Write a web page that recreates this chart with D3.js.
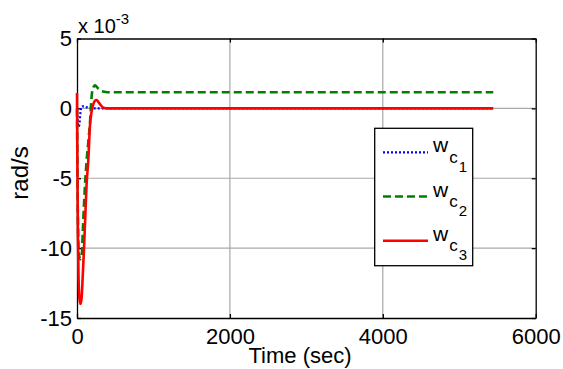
<!DOCTYPE html>
<html><head><meta charset="utf-8">
<script src="https://cdn.jsdelivr.net/npm/d3@7"></script>
<style>
html,body{margin:0;padding:0;background:#fff;}
svg{display:block;font-family:Arial,"Liberation Sans",sans-serif;}
</style></head>
<body><svg id="c" width="563" height="369"></svg>
<script>
// data (values in units of 1e-3 rad/s)
const time   = [0, 5, 12, 20, 30, 45, 60, 75, 92, 110, 125, 148, 170, 192, 213, 235, 257, 280, 300, 345, 400, 500, 5445];
const wc1    = [-0.2, -0.6, -1.1, -1.3, -1.2, -0.3, 0.1, 0.15, 0.15, 0.1, 0.08, 0.05, 0.03, 0.02, 0.01, 0, 0, 0, 0, 0, 0, 0, 0];
const wc2    = [0, -4, -8, -10, -10.6, -10.8, -10.7, -8.9, -6.8, -5, -3.8, -2.4, -1.0, 0.9, 1.5, 1.65, 1.55, 1.4, 1.3, 1.2, 1.15, 1.15, 1.15];
const wc3    = [1.1, -4, -9, -12, -13.5, -14.0, -13.6, -12, -10, -7.5, -5.5, -3.7, -1.2, -0.2, 0.3, 0.55, 0.6, 0.45, 0.3, 0.05, 0, 0, 0];
const xTicks = [0, 2000, 4000, 6000];
const yTicks = [5, 0, -5, -10, -15];
const seriesNames = ["1", "2", "3"];

const svg = d3.select("#c");
const L = 77, R = 535.7, T = 38.5, B = 318;
const x = d3.scaleLinear().domain([0, 6000]).range([L, R]);
const y = d3.scaleLinear().domain([-15, 5]).range([B, T]);

// grid
const g = svg.append("g");
g.selectAll(".gx").data(xTicks.slice(1, -1)).enter().append("line")
  .attr("x1", d => x(d)).attr("x2", d => x(d)).attr("y1", T).attr("y2", B)
  .attr("stroke", "#a8a8a8").attr("stroke-width", 1.2);
g.selectAll(".gy").data(yTicks.slice(1, -1)).enter().append("line")
  .attr("x1", L).attr("x2", R).attr("y1", d => y(d)).attr("y2", d => y(d))
  .attr("stroke", "#a8a8a8").attr("stroke-width", 1.2);

// axes
const fmt = d => String(d);
const ax = (axis, tr) => {
  const a = svg.append("g").attr("transform", tr).call(axis);
  a.select(".domain").attr("stroke", "#000").attr("stroke-width", 1.3);
  a.selectAll(".tick line").attr("stroke", "#000").attr("stroke-width", 1.3);
  a.selectAll("text").attr("font-size", 22).attr("fill", "#000")
    .attr("font-family", "Arial, 'Liberation Sans', sans-serif");
  return a;
};
ax(d3.axisBottom(x).tickValues(xTicks).tickSize(-4).tickPadding(10).tickFormat(fmt).tickSizeOuter(0), `translate(0,${B})`);
ax(d3.axisTop(x).tickValues(xTicks).tickSize(-4).tickFormat("").tickSizeOuter(0), `translate(0,${T})`);
ax(d3.axisLeft(y).tickValues(yTicks).tickSize(-4).tickPadding(5).tickFormat(fmt).tickSizeOuter(0), `translate(${L},0)`);
ax(d3.axisRight(y).tickValues(yTicks).tickSize(-4).tickFormat("").tickSizeOuter(0), `translate(${R},0)`);

// lines
const styles = [
  {data: wc1, color: "#0000ff", dash: "2,2", w: 2.2},
  {data: wc2, color: "#008000", dash: "8,4", w: 2.6},
  {data: wc3, color: "#ff0000", dash: null, w: 2.6}
];
const line = d3.line().x(d => x(d[0])).y(d => y(d[1])).curve(d3.curveMonotoneX);
styles.forEach(s => {
  svg.append("path").datum(time.map((t, i) => [t, s.data[i]]))
    .attr("d", line).attr("fill", "none").attr("stroke", s.color)
    .attr("stroke-width", s.w).attr("stroke-dasharray", s.dash);
});

// exponent label
const ex = svg.append("text").attr("x", 78).attr("y", 33).attr("font-size", 20).attr("fill", "#000");
ex.append("tspan").text("x 10");
ex.append("tspan").attr("font-size", 15).attr("dy", -9).text("-3");

// axis labels
svg.append("text").attr("x", 300).attr("y", 363).attr("text-anchor", "middle")
  .attr("font-size", 22).text("Time (sec)");
svg.append("text").attr("transform", "translate(28,173) rotate(-90)").attr("text-anchor", "middle")
  .attr("font-size", 24).text("rad/s");

// legend
const lg = svg.append("g");
lg.append("rect").attr("x", 374.7).attr("y", 128.3).attr("width", 98).attr("height", 137.4)
  .attr("fill", "#fff").attr("stroke", "#000").attr("stroke-width", 1.3);
const ly = d3.scaleLinear().domain([0, 2]).range([152.3, 240.7]);
styles.forEach((s, i) => {
  lg.append("line").attr("x1", 383).attr("x2", 428).attr("y1", ly(i)).attr("y2", ly(i))
    .attr("stroke", s.color).attr("stroke-width", s.w).attr("stroke-dasharray", s.dash);
  const t = lg.append("text").attr("x", 433).attr("y", ly(i)).attr("font-size", 21).attr("fill", "#000");
  t.append("tspan").text("w");
  t.append("tspan").attr("font-size", 17).attr("dy", 10.5).attr("dx", 1).text("c");
  t.append("tspan").attr("font-size", 15).attr("dy", 9).attr("dx", 1).text(seriesNames[i]);
});
</script></body></html>
